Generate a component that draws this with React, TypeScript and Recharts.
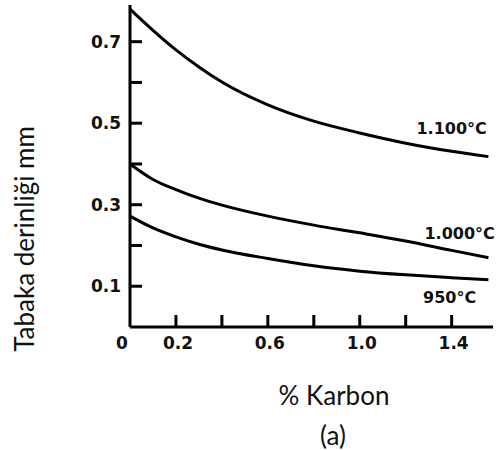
import { LineChart, Line, XAxis, YAxis } from 'recharts'

const carbon = [0, 0.1, 0.2, 0.3, 0.4, 0.6, 0.8, 1.0, 1.2, 1.4, 1.56]
const depth1100 = [0.78, 0.728, 0.68, 0.638, 0.601, 0.545, 0.505, 0.476, 0.451, 0.431, 0.418]
const depth1000 = [0.4, 0.362, 0.337, 0.316, 0.299, 0.272, 0.25, 0.231, 0.211, 0.188, 0.17]
const depth950 = [0.272, 0.243, 0.221, 0.203, 0.189, 0.168, 0.15, 0.137, 0.128, 0.121, 0.116]

const xTicks = [0, 0.2, 0.4, 0.6, 0.8, 1.0, 1.2, 1.4]
const xTickLabels = ['0', '0.2', '', '0.6', '', '1.0', '', '1.4']
const yTicks = [0.1, 0.2, 0.3, 0.4, 0.5, 0.6, 0.7]
const yTickLabels = ['0.1', '', '0.3', '', '0.5', '', '0.7']
const curveNames = ['1.100°C', '1.000°C', '950°C']

const data = carbon.map((c, i) => ({
  c,
  t1100: depth1100[i],
  t1000: depth1000[i],
  t950: depth950[i],
}))

const tickFont = { fontFamily: 'DejaVu Sans', fontWeight: 700, fontSize: 17, fill: '#111' }

function XTick(props: any) {
  const { x, y, payload, index } = props
  const label = xTickLabels[index]
  return (
    <g>
      {payload.value > 0 && <line x1={x} y1={y} x2={x} y2={y - 12} stroke="#000" strokeWidth={3} />}
      {label && (
        <text x={payload.value === 0 ? x - 8 : x + 2} y={y + 22} textAnchor="middle" {...tickFont}>
          {label}
        </text>
      )}
    </g>
  )
}

function YTick(props: any) {
  const { x, y, index } = props
  const label = yTickLabels[index]
  return (
    <g>
      <line x1={x} y1={y} x2={x + 12} y2={y} stroke="#000" strokeWidth={3} />
      {label && (
        <text x={x - 9} y={y} dy="0.36em" textAnchor="end" {...tickFont}>
          {label}
        </text>
      )}
    </g>
  )
}

const curveLabel = (text: string, dx: number, dy: number) => (props: any) => {
  if (props.index !== carbon.length - 2) return null
  return (
    <text
      x={props.x + dx}
      y={props.y + dy}
      textAnchor="middle"
      fontFamily="DejaVu Sans"
      fontWeight={700}
      fontSize={16}
      fill="#111"
    >
      {text}
    </text>
  )
}

const titleFont = { fontFamily: 'Lato', fontSize: 26, color: '#111', whiteSpace: 'nowrap' as const, lineHeight: 1 }

export default function App() {
  return (
    <div style={{ position: 'absolute', left: 0, top: 0, width: 499, height: 450, background: '#fff' }}>
      <LineChart width={499} height={450} data={data} margin={{ top: 5, right: 6, left: 0, bottom: 93 }}>
        <XAxis
          dataKey="c"
          type="number"
          domain={[0, 1.58]}
          ticks={xTicks}
          interval={0}
          tick={<XTick />}
          tickLine={false}
          tickSize={0}
          tickMargin={0}
          height={30}
          axisLine={{ stroke: '#000', strokeWidth: 3 }}
        />
        <YAxis
          type="number"
          domain={[0, 0.79]}
          ticks={yTicks}
          interval={0}
          tick={<YTick />}
          tickLine={false}
          tickSize={0}
          tickMargin={0}
          width={130}
          axisLine={{ stroke: '#000', strokeWidth: 3 }}
        />
        <Line
          dataKey="t1100"
          type="monotone"
          stroke="#000"
          strokeWidth={3}
          dot={false}
          isAnimationActive={false}
          label={curveLabel(curveNames[0], 0, -17)}
        />
        <Line
          dataKey="t1000"
          type="monotone"
          stroke="#000"
          strokeWidth={3}
          dot={false}
          isAnimationActive={false}
          label={curveLabel(curveNames[1], 8, -11)}
        />
        <Line
          dataKey="t950"
          type="monotone"
          stroke="#000"
          strokeWidth={3}
          dot={false}
          isAnimationActive={false}
          label={curveLabel(curveNames[2], -2, 25)}
        />
      </LineChart>
      <div
        style={{
          ...titleFont,
          position: 'absolute',
          left: 24,
          top: 239,
          transform: 'translate(-50%, -50%) rotate(-90deg)',
        }}
      >
        Tabaka derinliği mm
      </div>
      <div style={{ ...titleFont, position: 'absolute', left: 334, top: 395, transform: 'translate(-50%, -50%)' }}>
        % Karbon
      </div>
      <div style={{ ...titleFont, position: 'absolute', left: 333, top: 435, transform: 'translate(-50%, -50%)' }}>
        (a)
      </div>
    </div>
  )
}
